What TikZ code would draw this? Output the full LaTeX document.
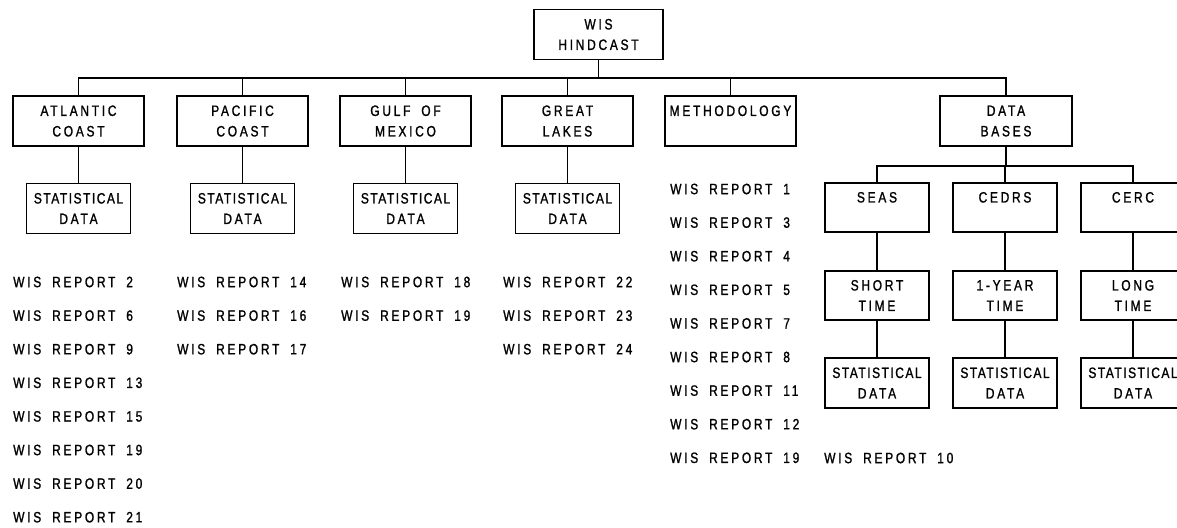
\documentclass[tikz,border=0pt]{standalone}
\usepackage{fontspec}
\setmainfont{Liberation Sans}[FakeStretch=0.8,FakeBold=1.2,LetterSpace=18,WordSpace=1.8]
\newcommand{\stattxt}{{\addfontfeatures{LetterSpace=10}STATISTICAL}\\DATA}

\begin{document}
\begin{tikzpicture}[x=1pt,y=-1pt,
 box/.style={draw,line width=1.2pt,minimum width=131pt,minimum height=50pt,
 align=center,inner sep=0pt,font=\fontsize{15}{20.5}\selectfont},
 small/.style={box,minimum width=104pt},
 rep/.style={anchor=west,inner sep=0pt,font=\fontsize{15}{20.5}\selectfont},
 link/.style={line width=1.2pt}]
 \useasboundingbox (0,0) rectangle (1177,527);
 \clip (0,0) rectangle (1177,527);
 \node[box,minimum width=129pt] (hind) at (598.5,34.5){WIS\\HINDCAST};
 \node[box] (atl) at (78.5,121){ATLANTIC\\COAST};
 \node[box] (pac) at (242.5,121){PACIFIC\\COAST};
 \node[box] (gulf) at (405.5,121){GULF OF\\MEXICO};
 \node[box] (lakes) at (567.5,121){GREAT\\LAKES};
 \node[box] (meth) at (730.5,121){METHODOLOGY\\\mbox{}};
 \node[box,minimum width=132pt] (dbase) at (1006,121){DATA\\BASES};
 \node[small] (atlstat) at (78.5,208.5){\stattxt};
 \node[small] (pacstat) at (242.5,208.5){\stattxt};
 \node[small] (gulfstat) at (405.5,208.5){\stattxt};
 \node[small] (lakesstat) at (567.5,208.5){\stattxt};
 \node[small,minimum height=49pt] (seas) at (877,207.5){SEAS\\\mbox{}};
 \node[small,minimum height=49pt] (cedrs) at (1005,207.5){CEDRS\\\mbox{}};
 \node[small,minimum height=49pt] (cerc) at (1133,207.5){CERC\\\mbox{}};
 \node[small,minimum height=49pt] (short) at (877,295.5){SHORT\\TIME};
 \node[small,minimum height=49pt] (oneyear) at (1005,295.5){1-YEAR\\TIME};
 \node[small,minimum height=49pt] (longt) at (1133,295.5){LONG\\TIME};
 \node[small] (seasstat) at (877,383){\stattxt};
 \node[small] (cedrsstat) at (1005,383){\stattxt};
 \node[small] (cercstat) at (1133,383){\stattxt};
 \coordinate (bus) at (0,78);
 \coordinate (sbus) at (0,166);
 \draw[link] (atl.north) |- (dbase.north |- bus) -- (dbase.north);
 \draw[link] (hind.south) -- (hind.south |- bus);
 \foreach \b in {pac,gulf,lakes,meth}
 \draw[link] (\b.north) -- (\b.north |- bus);
 \foreach \b in {atl,pac,gulf,lakes}
 \draw[link] (\b) -- (\b stat);
 \draw[link] (dbase.south) -- (dbase.south |- sbus);
 \draw[link] (seas.north) |- (cerc.north |- sbus) -- (cerc.north);
 \draw[link] (cedrs.north) -- (cedrs.north |- sbus);
 \draw[link] (seas) -- (short) -- (seasstat);
 \draw[link] (cedrs) -- (oneyear) -- (cedrsstat);
 \draw[link] (cerc) -- (longt) -- (cercstat);
 \foreach \n [count=\i] in {2,6,9,13,15,19,20,21}
 \node[rep] (atl-r\i) at (13,{282+33.6*(\i-1)}){WIS REPORT \n};
 \foreach \n [count=\i] in {14,16,17}
 \node[rep] (pac-r\i) at (177,{282+33.6*(\i-1)}){WIS REPORT \n};
 \foreach \n [count=\i] in {18,19}
 \node[rep] (gulf-r\i) at (341,{282+33.6*(\i-1)}){WIS REPORT \n};
 \foreach \n [count=\i] in {22,23,24}
 \node[rep] (lakes-r\i) at (503,{282+33.6*(\i-1)}){WIS REPORT \n};
 \foreach \n [count=\i] in {1,3,4,5,7,8,11,12,19}
 \node[rep] (meth-r\i) at (670,{189+33.6*(\i-1)}){WIS REPORT \n};
 \node[rep] (dbase-r) at (824,458){WIS REPORT 10};
\end{tikzpicture}
\end{document}
